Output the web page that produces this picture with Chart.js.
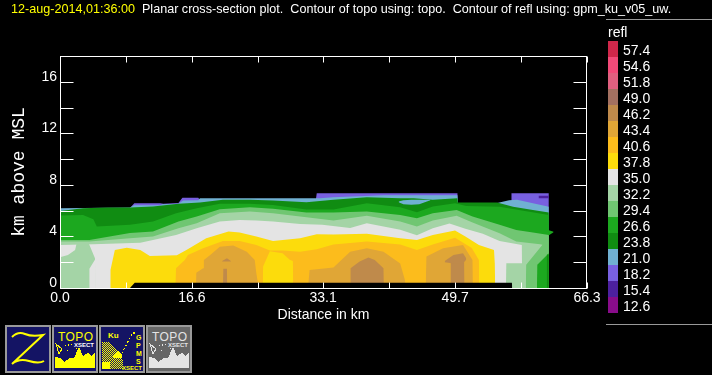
<!DOCTYPE html>
<html>
<head>
<meta charset="utf-8">
<title>Planar cross-section plot</title>
<script src="https://cdn.jsdelivr.net/npm/chart.js@4"></script>
<style>
  html, body { margin: 0; padding: 0; background: #000; overflow: hidden; }
  #wrap { position: relative; width: 712px; height: 375px; font-family: "Liberation Sans", sans-serif; color: #fff; }
  #plot { position: absolute; left: 0; top: 0; }
  #head { position: absolute; left: 11px; top: 2px; font-size: 12.6px; line-height: 14px; white-space: pre; }
  #head span { color: #ffff00; }
  .rule { position: absolute; left: 606px; width: 106px; height: 1px; background: #999; }
  #barTitle { position: absolute; left: 608px; top: 24px; font-size: 14px; line-height: 16px; }
  .swatch { position: absolute; left: 608px; width: 10px; height: 16px; }
  .swatchLabel { position: absolute; left: 623px; font-size: 14px; line-height: 16px; }
  .icon { position: absolute; top: 325px; width: 46px; height: 48px; }
</style>
</head>
<body>
<div id="wrap">
  <canvas id="plot" width="712" height="375"></canvas>
  <div id="head"><span>12-aug-2014,01:36:00</span>  Planar cross-section plot.  Contour of topo using: topo.  Contour of refl using: gpm_ku_v05_uw.</div>
  <div class="rule" style="top:19px"></div>
  <div class="rule" style="top:324px"></div>
  <div id="barTitle">refl</div>
  <div id="bar"></div>

  <svg class="icon" style="left:5px" viewBox="0 0 46 48" shape-rendering="crispEdges">
    <rect x="1" y="1" width="44" height="46" fill="#141464" stroke="#999" stroke-width="2"/>
    <path d="M7 12 Q13 6 20 9 T38 10 L7 39 Q14 33 24 36 T39 36" fill="none" stroke="#ffff00" stroke-width="2" shape-rendering="auto"/>
  </svg>
  <svg class="icon" style="left:52px" viewBox="0 0 46 48" shape-rendering="crispEdges">
    <rect x="1" y="1" width="44" height="46" fill="#141464" stroke="#999" stroke-width="2"/>
    <text x="6" y="16" font-size="12" fill="#ffff00" font-family="Liberation Sans" textLength="35">TOPO</text>
    <text x="22" y="22" font-size="6" font-weight="bold" fill="#fff" font-family="Liberation Sans">XSECT</text>
    <path d="M3 43 V32 L8 33 L12 37 L18 33 L22 33 L27 22 L31 31 L36 28 L39 31 L43 28 V43 Z" fill="#ffff00"/>
    <path d="M4 19 L10 24 L7 29 Z" fill="none" stroke="#ffff00"/>
    <path d="M13 21 L20 19 M24 23 L25 26 M15 25 L17 28" fill="none" stroke="#ffff00" stroke-dasharray="1 2"/>
  </svg>
  <svg class="icon" style="left:99px" viewBox="0 0 46 48" shape-rendering="crispEdges">
    <defs>
      <pattern id="checker" width="2" height="2" patternUnits="userSpaceOnUse">
        <rect width="1" height="1" fill="#ffff00"/>
        <rect x="1" y="1" width="1" height="1" fill="#ffff00"/>
      </pattern>
    </defs>
    <rect x="1" y="1" width="44" height="46" fill="#141464" stroke="#999" stroke-width="2"/>
    <text x="9" y="13" font-size="8" font-weight="bold" fill="#ffff00" font-family="Liberation Sans">Ku</text>
    <text x="37" y="15" font-size="7" font-weight="bold" fill="#ffff00" font-family="Liberation Sans">G</text>
    <text x="37" y="23" font-size="7" font-weight="bold" fill="#ffff00" font-family="Liberation Sans">P</text>
    <text x="37" y="31" font-size="7" font-weight="bold" fill="#ffff00" font-family="Liberation Sans">M</text>
    <text x="37" y="39" font-size="7" font-weight="bold" fill="#ffff00" font-family="Liberation Sans">S</text>
    <text x="23" y="45" font-size="6" font-weight="bold" fill="#ffff00" font-family="Liberation Sans">XSECT</text>
    <path d="M3 44 V17 H9 L14 22 L20 27 L24 36 V44 Z" fill="url(#checker)"/>
    <path d="M3 44 V37 H11 V44 Z M14 30 L19 25 L23 30 V33 H14 Z" fill="#ffff00"/>
    <path d="M34 7 h2 v2 h-2 Z" fill="#ffff00"/>
    <path d="M33 9 L22 30" fill="none" stroke="#ffff00" stroke-dasharray="2 2"/>
  </svg>
  <svg class="icon" style="left:146px" viewBox="0 0 46 48" shape-rendering="crispEdges">
    <rect x="1" y="1" width="44" height="46" fill="#666" stroke="#999" stroke-width="2"/>
    <text x="6" y="16" font-size="12" fill="#e4e4e4" font-family="Liberation Sans" textLength="35">TOPO</text>
    <text x="22" y="22" font-size="6" font-weight="bold" fill="#e4e4e4" font-family="Liberation Sans">XSECT</text>
    <path d="M3 43 V32 L8 33 L12 37 L18 33 L22 33 L27 22 L31 31 L36 28 L39 31 L43 28 V43 Z" fill="#e4e4e4"/>
    <path d="M4 19 L10 24 L7 29 Z" fill="none" stroke="#e4e4e4"/>
    <path d="M13 21 L20 19 M24 23 L25 26 M15 25 L17 28" fill="none" stroke="#e4e4e4" stroke-dasharray="1 2"/>
  </svg>
</div>

<script>
// colour bar, top to bottom
const reflLevels = ["57.4", "54.6", "51.8", "49.0", "46.2", "43.4", "40.6", "37.8", "35.0", "32.2", "29.4", "26.6", "23.8", "21.0", "18.2", "15.4", "12.6"];
const reflColors = ["#d0274a", "#f24a78", "#e0607f", "#a37060", "#bf8a4b", "#e0a636", "#fcbc1c", "#fcdc0c", "#e4e4e4", "#a4d4a6", "#70c672", "#1ca81f", "#108c12", "#70b0d2", "#7860e0", "#4c209f", "#880c8a"];

const xTicks = [0, 8.3, 16.6, 24.9, 33.1, 41.4, 49.7, 58, 66.3];
const xLabels = ["0.0", "", "16.6", "", "33.1", "", "49.7", "", "66.3"];
const yTicks = [0, 2, 4, 6, 8, 10, 12, 14, 16];
const yLabels = ["0", "", "4", "", "8", "", "12", "", "16"];

// contour tops, [km along section, km above MSL], everything below is painted over by the next one
const top182 = [[8.8, 6.2], [9.35, 6.58], [12.6, 6.58], [13, 6.53], [14.9, 6.6], [15.4, 7], [17.4, 7], [17.5, 6.9], [32.2, 6.9], [32.3, 7.36], [50, 7.36], [50.05, 6.5], [56.75, 6.5], [56.8, 7.36], [61.5, 7.36]];
const top210 = [[0, 6.19], [8.8, 6.25], [9.35, 6.42], [12.6, 6.42], [12.9, 6.5], [14.9, 6.53], [15.5, 6.78], [17.4, 6.8], [17.6, 6.97], [32.7, 6.97], [34.4, 7.05], [40.7, 7.2], [50, 7.2], [50.05, 6.5], [55, 6.6], [56.5, 6.8], [57.5, 6.85], [61.5, 6.3]];
const top238 = [[0, 5.98], [2.9, 6.19], [5.9, 6.24], [8.8, 6.24], [11.7, 6.32], [14.9, 6.53], [17.6, 6.63], [20.5, 6.84], [23.9, 6.84], [26.8, 6.79], [31, 6.66], [34.4, 6.84], [38.6, 7.05], [42.8, 6.97], [44.5, 6.97], [46.9, 6.84], [50, 6.97], [50.05, 6.63], [55, 6.63], [57, 6.3], [59.5, 6.05], [61.5, 5.85]];
const top266 = [[0, 5.62], [2.9, 5.67], [4.2, 5.34], [4.63, 4.77], [8.8, 4.9], [11.7, 5.16], [14.6, 5.8], [17.2, 6.19], [20.1, 6.53], [23.9, 6.53], [26.8, 6.43], [31, 6.1], [34.4, 6.1], [38.6, 6.58], [42.8, 6.27], [44.9, 5.88], [46.9, 6.32], [49.7, 6.58], [51.1, 6.37], [55.3, 6.3], [61.5, 5.67]];
const top294 = [[0, 3.73], [3.7, 3.73], [8.8, 4.27], [11.7, 4.38], [14.9, 5.16], [17.2, 5.54], [20.1, 6.11], [23.9, 6.27], [26.8, 6.14], [31, 5.85], [34.4, 5.85], [38.6, 5.93], [42.8, 5.67], [44.9, 5.41], [46.9, 5.8], [49.9, 6.06], [51.9, 5.54], [55.3, 4.9], [57.4, 4.5], [59.5, 4.3], [61.5, 4.12]];
const top322 = [[0, 3.6], [3.7, 3.6], [8.8, 3.86], [11.7, 3.99], [14.9, 4.64], [17.2, 5.03], [20.1, 5.8], [23.9, 5.93], [26.8, 5.8], [31, 5.49], [34.4, 5.23], [38.6, 5.6], [42.8, 5.16], [44.9, 4.77], [46.9, 5.23], [49.9, 5.6], [51.9, 5.08], [55.3, 4.25], [57.4, 3.6], [60.4, 3.4], [60.7, 3.35], [60.75, 0]];
const top350 = [[0, 3.34], [4.2, 3.4], [10.1, 3.52], [14.6, 4.12], [17.2, 4.64], [20.1, 5.16], [22.6, 5.28], [24.7, 5.23], [26.8, 5.16], [30.2, 4.97], [33, 4.9], [36.5, 4.66], [38.6, 5.03], [42.8, 4.51], [44.9, 4.1], [46.9, 4.64], [49, 5], [51, 4.6], [53.2, 4.2], [55.3, 3.65], [58.1, 3.34], [58.15, 0]];
const top378 = [[6.3, 0], [6.35, 1.4], [6.9, 2.95], [8.4, 3.13], [10.1, 2.95], [11.3, 2.49], [14.7, 2.54], [15.9, 2.95], [18.4, 3.86], [21.2, 4.38], [22.6, 4.3], [24.7, 4], [26.8, 3.65], [30.2, 3.86], [32.3, 4.17], [34.4, 4.15], [38.6, 4.2], [42.8, 3.86], [44.9, 3.73], [46.9, 4.12], [49.7, 4.46], [51, 3.99], [52.7, 3.34], [54.6, 2.95], [54.7, 1.9], [54.75, 0]];
const top406 = [[14.5, 0], [14.6, 1.53], [15.7, 2.18], [16.1, 2.56], [18, 3.08], [20.5, 3.65], [22.6, 3.65], [24.7, 3.34], [26.4, 2.9], [28, 2.9], [30.2, 2.82], [32.3, 3], [34.4, 3.37], [38.6, 3.6], [42.8, 3.37], [44.9, 2.95], [46.9, 3.37], [49.7, 3.9], [51.8, 3.1], [52.7, 2.18], [52.75, 0]];
const top434a = [[17.1, 0], [17.15, 1.19], [18, 1.53], [18.1, 2.18], [18.9, 2.56], [20.1, 3.21], [21.8, 3.29], [23.5, 2.82], [24.5, 2.18], [24.7, 1.14], [25, 0]];
const top434b = [[31.2, 0], [31.4, 1.4], [34.4, 1.6], [36.5, 2.82], [38.6, 3.08], [40.7, 2.82], [42.8, 1.9], [43.4, 0.6], [43.45, 0]];
const top434c = [[46, 0], [46.1, 2.44], [48.2, 3.08], [50.7, 3.34], [51.9, 2.18], [51.95, 0]];
const top462a = [[20.5, 0], [20.55, 1.5], [21, 1.5], [21.05, 0]];
const top462b = [[36.5, 0], [36.55, 1.53], [37.7, 2.05], [38.8, 2.36], [39.6, 2.18], [40.7, 1.53], [40.75, 0]];
const top462c = [[49.1, 0], [49.15, 2], [50.85, 2], [50.9, 0]];

// pockets that sit inside the larger bands
const pocket378 = [[25.5, 0], [25.55, 1.66], [26.4, 2.85], [28, 2.7], [28.9, 2.2], [29.3, 2.1], [29.35, 0]];
const pocket322left = [[0, 2.38], [1, 2.56], [1.9, 2.95], [2.1, 3.5], [3.6, 3.5], [4.4, 2.3], [4.45, 0]];
const pocket350left = [[3.65, 0], [3.7, 1.5], [4.45, 2.25], [4.5, 0]];
const pocket322right = [[56.1, 0], [56.15, 1.92], [58.2, 1.92], [58.25, 0]];
const pocket294right = [[58.6, 0], [58.65, 1.8], [60.7, 3.35], [61.5, 4.12]];
const pocket266right = [[60, 0], [60.05, 1.8], [61.5, 2.7]];
const pocket238right = [[61.2, 0], [61.25, 2.6], [61.5, 2.6]];
const topoGround = [[8.8, 0], [9.4, 0.41], [56.85, 0.41], [56.9, 0]];

// closed cells: x, top, bottom
const cell210x = [42.6, 43.2, 44.2, 45.2, 46.6];
const cell210top = [6.71, 6.8, 6.85, 6.85, 6.84];
const cell210bottom = [6.65, 6.5, 6.45, 6.5, 6.8];
const cell154x = [60.2, 61.5];
const cell154top = [7.15, 7.15];
const cell154bottom = [6.97, 6.97];
const cell462x = [20.4, 21, 21.5];
const cell462top = [2.1, 2.3, 2.1];
const cell462bottom = [2.05, 2.05, 2.05];
const blob462x = [48.4, 49.5, 50.7, 51.1];
const blob462top = [2.1, 2.56, 2.69, 2.3];
const blob462bottom = [2, 1.9, 1.9, 2.2];
const spike266x = [61.4, 62.1];
const spike266top = [4.5, 4.37];
const spike266bottom = [4.05, 4.33];

function colorOf(level) {
  return reflColors[reflLevels.indexOf(level)];
}

var datasets = [];
function addTop(points, color) {
  datasets.push({
    data: points.map((p) => ({ x: p[0], y: p[1] })),
    backgroundColor: color,
    fill: "origin",
  });
}
function addCell(xs, tops, bottoms, color) {
  datasets.push({ data: xs.map((x, i) => ({ x: x, y: bottoms[i] })), fill: false });
  datasets.push({
    data: xs.map((x, i) => ({ x: x, y: tops[i] })),
    backgroundColor: color,
    fill: "-1",
  });
}

addTop(top182, colorOf("18.2"));
addCell(cell154x, cell154top, cell154bottom, colorOf("15.4"));
addTop(top210, colorOf("21.0"));
addTop(top238, colorOf("23.8"));
addCell(cell210x, cell210top, cell210bottom, colorOf("21.0"));
addTop(top266, colorOf("26.6"));
addCell(spike266x, spike266top, spike266bottom, colorOf("26.6"));
addTop(top294, colorOf("29.4"));
addTop(top322, colorOf("32.2"));
addTop(top350, colorOf("35.0"));
addTop(pocket322left, colorOf("32.2"));
addTop(pocket350left, colorOf("35.0"));
addTop(pocket322right, colorOf("32.2"));
addTop(pocket294right, colorOf("29.4"));
addTop(pocket266right, colorOf("26.6"));
addTop(pocket238right, colorOf("23.8"));
addTop(top378, colorOf("37.8"));
addTop(top406, colorOf("40.6"));
addTop(pocket378, colorOf("37.8"));
addTop(top434a, colorOf("43.4"));
addTop(top434b, colorOf("43.4"));
addTop(top434c, colorOf("43.4"));
addTop(top462a, colorOf("46.2"));
addTop(top462b, colorOf("46.2"));
addTop(top462c, colorOf("46.2"));
addCell(cell462x, cell462top, cell462bottom, colorOf("46.2"));
addCell(blob462x, blob462top, blob462bottom, colorOf("46.2"));
addTop(topoGround, "#000");

// chart.js paints the first dataset last, so flip that with order
datasets.forEach(function (d, i) {
  d.order = datasets.length - i;
  d.borderWidth = 0;
  d.pointRadius = 0;
  d.tension = 0;
});

// frame and the inward ticks on all four sides
const frameTicks = {
  id: "frameTicks",
  afterDatasetsDraw(chart) {
    var ctx = chart.ctx;
    var a = chart.chartArea;
    var line = function (x1, y1, x2, y2) {
      ctx.beginPath();
      ctx.moveTo(x1, y1);
      ctx.lineTo(x2, y2);
      ctx.stroke();
    };
    ctx.save();
    ctx.strokeStyle = "#fff";
    ctx.lineWidth = 1;
    var left = a.left + 0.5, right = a.right - 0.5, top = a.top + 0.5, bottom = a.bottom + 0.5;
    ctx.strokeRect(left, top, right - left, bottom - top);
    chart.scales.x.ticks.forEach(function (t) {
      var px = Math.round(chart.scales.x.getPixelForValue(t.value)) + 0.5;
      line(px, bottom, px, bottom - 6);
      line(px, top, px, top + 6);
    });
    chart.scales.y.ticks.forEach(function (t) {
      var py = Math.round(chart.scales.y.getPixelForValue(t.value)) + 0.5;
      line(left, py, left + 13, py);
      line(right, py, right - 13, py);
    });
    ctx.restore();
  },
};

new Chart("plot", {
  type: "line",
  data: { datasets: datasets },
  plugins: [frameTicks],
  options: {
    responsive: false,
    animation: false,
    devicePixelRatio: 1,
    layout: { padding: { left: 0, top: 56, right: 125, bottom: 0 } },
    plugins: { legend: { display: false }, tooltip: { enabled: false } },
    elements: { line: { borderWidth: 0 } },
    scales: {
      x: {
        type: "linear",
        min: 0,
        max: 66.3,
        afterBuildTicks: function (s) {
          s.ticks = xTicks.map((v) => ({ value: v }));
        },
        afterFit: function (s) {
          s.height = 87;
        },
        grid: { display: false, drawTicks: false },
        border: { display: false },
        ticks: {
          color: "#fff",
          padding: 2,
          autoSkip: false,
          maxRotation: 0,
          font: { family: "Liberation Sans", size: 14 },
          callback: function (v) {
            return xLabels[xTicks.indexOf(v)];
          },
        },
        title: {
          display: true,
          text: "Distance in km",
          color: "#fff",
          padding: { top: 0, bottom: 51 },
          font: { family: "Liberation Sans", size: 14 },
        },
      },
      y: {
        type: "linear",
        min: 0,
        max: 18,
        afterBuildTicks: function (s) {
          s.ticks = yTicks.map((v) => ({ value: v }));
        },
        afterFit: function (s) {
          s.width = 60;
        },
        grid: { display: false, drawTicks: false },
        border: { display: false },
        ticks: {
          color: "#fff",
          padding: 3,
          labelOffset: -5,
          autoSkip: false,
          font: { family: "Liberation Sans", size: 14 },
          callback: function (v) {
            return yLabels[yTicks.indexOf(v)];
          },
        },
        title: {
          display: true,
          text: "km above MSL",
          color: "#fff",
          padding: { top: 8, bottom: 0 },
          font: { family: "Liberation Mono", size: 18 },
        },
      },
    },
  },
});

// colour bar next to the plot
var bar = document.getElementById("bar");
reflLevels.forEach(function (level, i) {
  var box = document.createElement("div");
  box.className = "swatch";
  box.style.top = 41 + i * 16 + "px";
  box.style.background = reflColors[i];
  bar.appendChild(box);
  var label = document.createElement("div");
  label.className = "swatchLabel";
  label.style.top = 42 + i * 16 + "px";
  label.textContent = level;
  bar.appendChild(label);
});
</script>
</body>
</html>
